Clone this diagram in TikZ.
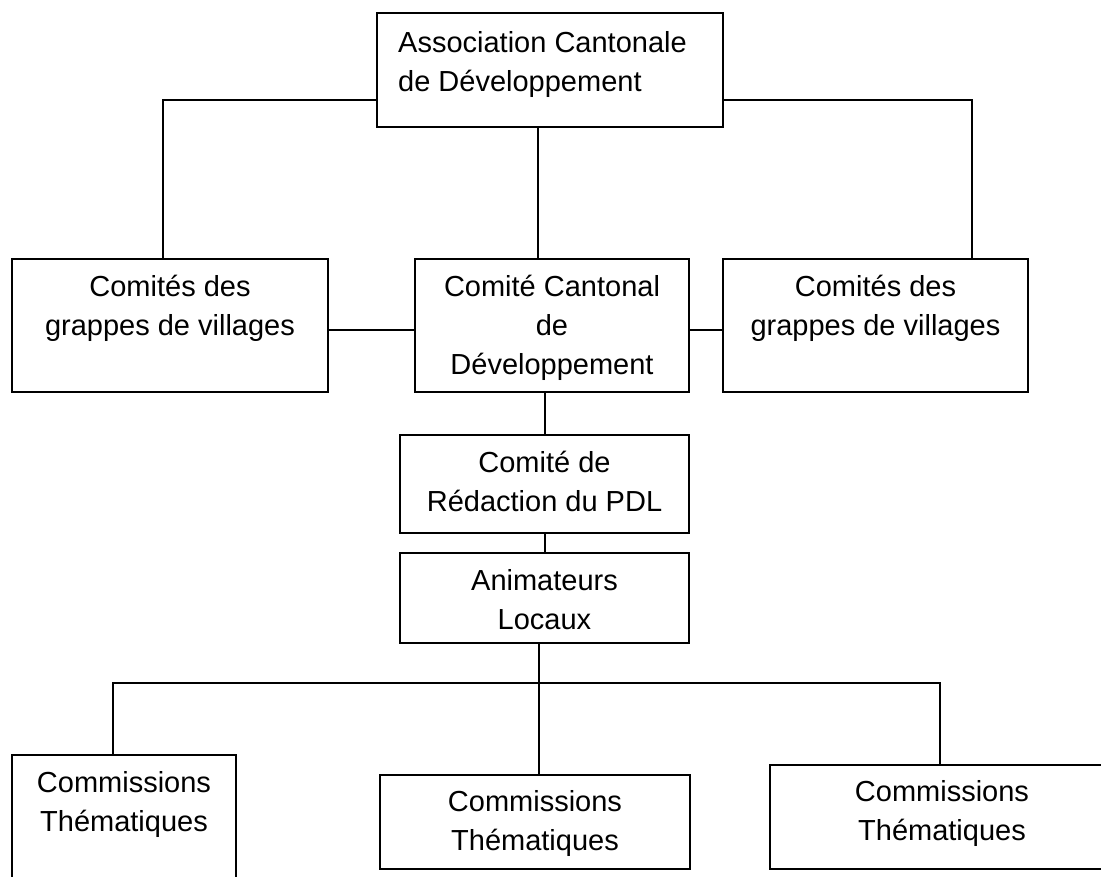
\documentclass[tikz,border=0pt]{standalone}
\usepackage{fontspec}
\setmainfont{Liberation Sans}
\usetikzlibrary{positioning}
\tikzstyle{unit} = [rectangle, draw=black, line width=2pt, inner sep=0pt]
\tikzstyle{boxtext} = [inner sep=0pt, align=center, font=\fontsize{29}{39}\selectfont]
\tikzstyle{link} = [line width=2pt]

\begin{document}
\begin{tikzpicture}[x=1pt, y=-1pt]
\clip (0,0) rectangle (1101,877);

% boxes
\node (acd) [unit, minimum width=346pt, minimum height=114pt] at (550,70) {};
\node (cgv1) [unit, minimum width=316pt, minimum height=133pt] at (170,325.5) {};
\node (ccd) [unit, minimum width=274pt, minimum height=133pt] at (552,325.5) {};
\node (cgv2) [unit, minimum width=305pt, minimum height=133pt] at (875.5,325.5) {};
\node (cr) [unit, minimum width=289pt, minimum height=98pt] at (544.5,484) {};
\node (al) [unit, minimum width=289pt, minimum height=90pt] at (544.5,598) {};
\node (ct1) [unit, minimum width=224pt, minimum height=150pt] at (124,830) {};
\node (ct2) [unit, minimum width=310pt, minimum height=94pt] at (535,822) {};
\node (ct3) [unit, minimum width=344pt, minimum height=104pt] at (942,817) {};

% texts
\node (acdtext) [boxtext, align=left, below right=19pt and 22pt of acd.north west] {Association Cantonale\\de Développement};
\node (cgv1text) [boxtext, below=17pt of cgv1.north] {Comités des\\grappes de villages};
\node (ccdtext) [boxtext, below=17pt of ccd.north] {Comité Cantonal\\de\\Développement};
\node (cgv2text) [boxtext, below=17pt of cgv2.north] {Comités des\\grappes de villages};
\node (crtext) [boxtext, below=17pt of cr.north] {Comité de\\Rédaction du PDL};
\node (altext) [boxtext, below=17pt of al.north] {Animateurs\\Locaux};
\node (ct1text) [boxtext, below=17pt of ct1.north] {Commissions\\Thématiques};
\node (ct2text) [boxtext, below=16pt of ct2.north] {Commissions\\Thématiques};
\node (ct3text) [boxtext, below=16pt of ct3.north] {Commissions\\Thématiques};

% connectors
\coordinate (tl) at (163,100);
\coordinate (tr) at (972,100);
\coordinate (tc) at (538,0);
\coordinate (ml) at (0,330);
\coordinate (bl) at (113,683);
\coordinate (br) at (940,683);
\coordinate (bc) at (539,683);

\draw [link] (acd.west |- tl) -| (tl |- cgv1.north);
\draw [link] (acd.east |- tr) -| (tr |- cgv2.north);
\draw [link] (tc |- acd.south) -- (tc |- ccd.north);
\draw [link] (cgv1.east |- ml) -- (ccd.west |- ml);
\draw [link] (ccd.east |- ml) -- (cgv2.west |- ml);
\draw [link] (cr.north |- ccd.south) -- (cr.north);
\draw [link] (cr) -- (al);
\draw [link] (bc |- al.south) -- (bc |- ct2.north);
\draw [link] (bl |- ct1.north) |- (br) -- (br |- ct3.north);

\end{tikzpicture}
\end{document}
